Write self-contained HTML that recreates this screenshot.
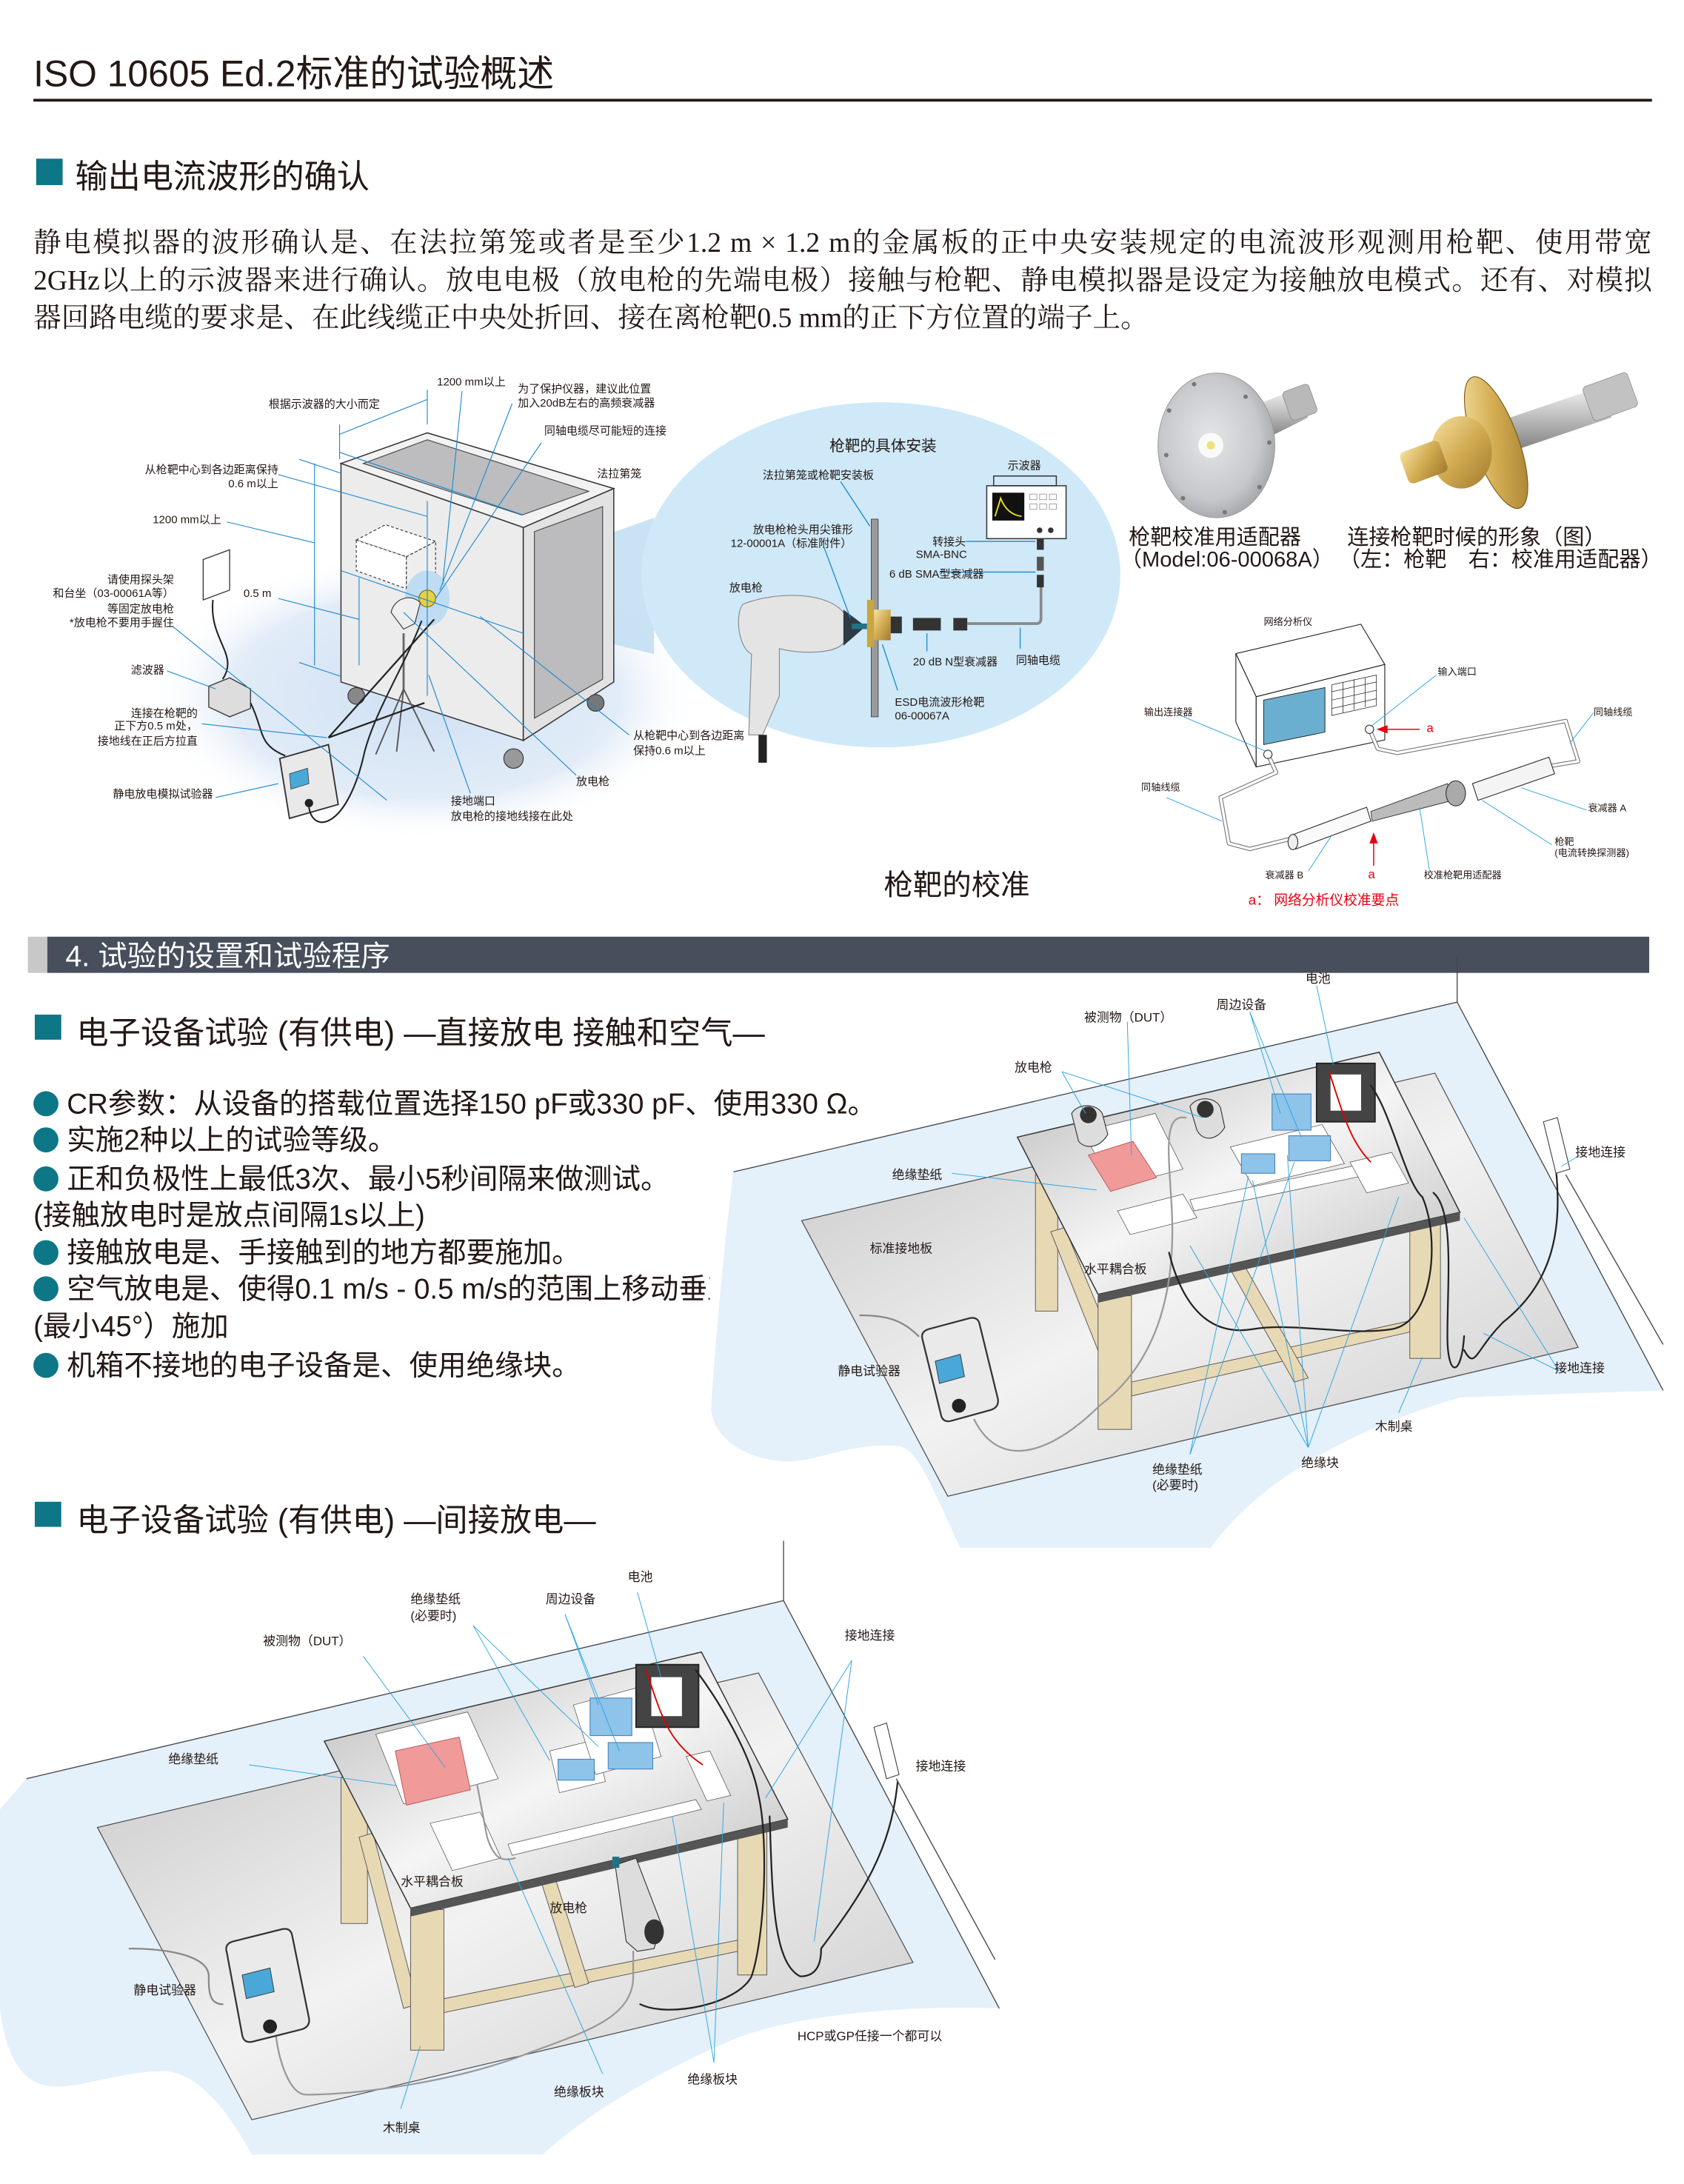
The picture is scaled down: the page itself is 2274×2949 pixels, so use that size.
<!DOCTYPE html>
<html><head><meta charset="utf-8">
<style>
html,body{margin:0;padding:0;background:#fff;overflow:hidden;width:2274px;height:2948px}
#s{position:absolute;left:0;top:0;width:1210px;height:1569px;transform:scale(1.879339);transform-origin:0 0;font-family:"Liberation Sans","Noto Sans CJK SC",sans-serif;color:#231815}
.a{position:absolute;white-space:nowrap}
.p{position:absolute;left:24px;width:1163px;font-family:"Liberation Serif","Noto Serif CJK SC",serif;font-size:20px;line-height:27px;white-space:nowrap;text-align:justify;text-align-last:justify}
.b{position:absolute;left:24px;font-size:20.5px;white-space:nowrap}
.b i{display:inline-block;width:18px;height:18px;border-radius:50%;background:#0d7687;vertical-align:-2px;margin-right:6px}
.sq{position:absolute;background:#0d7687}
svg{position:absolute;left:0;top:0}
svg text{font-family:"Liberation Sans","Noto Sans CJK SC",sans-serif;fill:#231815}
</style></head><body><div id="s">

<div class="a" style="left:24px;top:31px;font-size:26.5px">ISO 10605 Ed.2标准的试验概述</div>
<div class="a" style="left:24px;top:71px;width:1163px;height:2.2px;background:#231815"></div>
<div class="sq" style="left:25.5px;top:114px;width:19px;height:19px"></div>
<div class="a" style="left:54px;top:108px;font-size:23.5px">输出电流波形的确认</div>

<div class="p" style="top:162px">静电模拟器的波形确认是、在法拉第笼或者是至少1.2 m × 1.2 m的金属板的正中央安装规定的电流波形观测用枪靶、使用带宽</div>
<div class="p" style="top:189px">2GHz以上的示波器来进行确认。放电电极（放电枪的先端电极）接触与枪靶、静电模拟器是设定为接触放电模式。还有、对模拟</div>
<div class="p" style="top:216px;width:auto;text-align:left;text-align-last:auto">器回路电缆的要求是、在此线缆正中央处折回、接在离枪靶0.5 mm的正下方位置的端子上。</div>

<svg width="1210" height="1569" viewBox="0 0 1210 1569">
<defs>
<radialGradient id="glow" cx="0.5" cy="0.5" r="0.5"><stop offset="0" stop-color="#cfe0f3"/><stop offset="0.7" stop-color="#e2ecf8"/><stop offset="1" stop-color="#fff" stop-opacity="0"/></radialGradient>
<linearGradient id="fl" x1="0" y1="0" x2="1" y2="1"><stop offset="0" stop-color="#c4c4c6"/><stop offset="0.5" stop-color="#f2f2f2"/><stop offset="1" stop-color="#c9c9cb"/></linearGradient>
<linearGradient id="tt" x1="0" y1="0" x2="1" y2="1"><stop offset="0" stop-color="#b9b9bb"/><stop offset="0.5" stop-color="#f5f5f5"/><stop offset="1" stop-color="#c0c0c2"/></linearGradient>
<radialGradient id="disc" cx="0.45" cy="0.45" r="0.6"><stop offset="0" stop-color="#e4e5e7"/><stop offset="0.7" stop-color="#c6c8cb"/><stop offset="1" stop-color="#9fa2a6"/></radialGradient>
<linearGradient id="brass" x1="0" y1="0" x2="1" y2="1"><stop offset="0" stop-color="#f6e3a0"/><stop offset="0.5" stop-color="#d2ab52"/><stop offset="1" stop-color="#a07a2c"/></linearGradient>
<linearGradient id="steel" x1="0" y1="0" x2="0" y2="1"><stop offset="0" stop-color="#f2f2f2"/><stop offset="0.5" stop-color="#bdbdbd"/><stop offset="1" stop-color="#858585"/></linearGradient>
</defs>

<!-- ===== top-left scene ===== -->
<ellipse cx="305" cy="500" rx="200" ry="105" fill="url(#glow)"/>
<polygon points="307,430 470,372 470,470" fill="#bcdcf1" opacity="0.8"/>
<ellipse cx="633" cy="413" rx="172" ry="124" fill="#cfe9f8"/>
<polygon points="245,333 307,311 441,351 376,379" fill="#f2f2f2" stroke="#333" stroke-width="0.8"/>
<polygon points="261,333 307,316 423,353 375,370" fill="#bdbdbf" stroke="#444" stroke-width="0.6"/>
<polygon points="245,333 376,379 376,532 245,490" fill="#ececec" stroke="#333" stroke-width="0.8"/>
<polygon points="376,379 441,351 441,490 376,532" fill="#e2e2e2" stroke="#333" stroke-width="0.8"/>
<polygon points="384,382 433,364 433,488 384,516" fill="#bcbcbe" stroke="#444" stroke-width="0.6"/>
<circle cx="256" cy="500" r="6" fill="#888" stroke="#333" stroke-width="0.6"/>
<circle cx="369" cy="545" r="7" fill="#999" stroke="#333" stroke-width="0.6"/>
<circle cx="428" cy="505" r="6" fill="#777" stroke="#333" stroke-width="0.6"/>
<polygon points="256,388 277,377 313,389 292,400" fill="#fff" stroke="#333" stroke-width="0.6" stroke-dasharray="2,1.5"/>
<polygon points="256,388 292,400 292,423 256,410" fill="#fff" stroke="#333" stroke-width="0.6" stroke-dasharray="2,1.5"/>
<polygon points="292,400 313,389 313,411 292,423" fill="#eee" stroke="#333" stroke-width="0.6" stroke-dasharray="2,1.5"/>
<ellipse cx="307" cy="430" rx="16" ry="20" fill="#bfdcf2"/>
<circle cx="307" cy="430" r="6" fill="#e7cf45" stroke="#7a6a10" stroke-width="0.6"/>
<path d="M290,452 L281,440 C283,430 295,426 302,433 L298,448 Z" fill="#eee" stroke="#333" stroke-width="0.6"/>
<line x1="290" y1="455" x2="290" y2="495" stroke="#666" stroke-width="1.5"/>
<path d="M290,495 L270,542 M290,495 L312,540 M290,495 L285,540" stroke="#555" stroke-width="1" fill="none"/>
<!-- tester -->
<path d="M201,545 L236,535 L243,578 L208,588 Z" fill="#e9e9e9" stroke="#333" stroke-width="1"/>
<polygon points="208,556 221,552 222,563 209,567" fill="#4aa8d8" stroke="#333" stroke-width="0.4"/>
<circle cx="222" cy="577" r="3" fill="#222"/>
<path d="M150,493 L165,487 L180,495 L180,509 L165,515 L150,508 Z" fill="#ddd" stroke="#333" stroke-width="0.7"/>
<polygon points="146,402 165,395 165,424 146,431" fill="#fff" stroke="#333" stroke-width="0.7"/>
<path d="M153,431 C150,460 172,470 160,488 M180,505 C190,525 185,535 205,543 M222,580 C225,600 250,595 262,540 C270,510 290,480 303,446" fill="none" stroke="#222" stroke-width="1.1"/>
<path d="M236,530 L312,445 M236,530 L305,505" fill="none" stroke="#222" stroke-width="1.2"/>
<g stroke="#1e88cf" stroke-width="0.6" fill="none">
<line x1="244" y1="312" x2="307" y2="287"/><line x1="244" y1="305" x2="244" y2="330"/><line x1="307" y1="280" x2="307" y2="305"/>
<line x1="244" y1="325" x2="376" y2="370"/><line x1="226" y1="333" x2="226" y2="478"/><line x1="215" y1="330" x2="245" y2="340"/><line x1="215" y1="476" x2="245" y2="486"/>
<line x1="258" y1="415" x2="258" y2="478"/><line x1="245" y1="410" x2="376" y2="455"/>
<line x1="307" y1="360" x2="307" y2="500"/>
<line x1="200" y1="341" x2="307" y2="371"/><line x1="163" y1="375" x2="226" y2="390"/>
<line x1="200" y1="430" x2="258" y2="445"/><line x1="124" y1="450" x2="278" y2="575"/>
<line x1="120" y1="482" x2="155" y2="495"/><line x1="145" y1="520" x2="235" y2="530"/><line x1="155" y1="573" x2="200" y2="563"/>
<line x1="338" y1="570" x2="308" y2="485"/><line x1="414" y1="557" x2="290" y2="440"/><line x1="452" y1="528" x2="345" y2="443"/>
<line x1="332" y1="281" x2="318" y2="420"/><line x1="368" y1="290" x2="316" y2="424"/><line x1="389" y1="318" x2="313" y2="430"/>
</g>
<g font-size="8">
<text x="314" y="277">1200 mm以上</text>
<text x="372" y="282">为了保护仪器，建议此位置</text>
<text x="372" y="292">加入20dB左右的高频衰减器</text>
<text x="193" y="293">根据示波器的大小而定</text>
<text x="391" y="312">同轴电缆尽可能短的连接</text>
<text x="429" y="343">法拉第笼</text>
<text x="200" y="340" text-anchor="end">从枪靶中心到各边距离保持</text>
<text x="200" y="350" text-anchor="end">0.6 m以上</text>
<text x="159" y="376" text-anchor="end">1200 mm以上</text>
<text x="125" y="419" text-anchor="end">请使用探头架</text>
<text x="125" y="429" text-anchor="end">和台坐（03-00061A等）</text>
<text x="125" y="440" text-anchor="end">等固定放电枪</text>
<text x="125" y="450" text-anchor="end">*放电枪不要用手握住</text>
<text x="175" y="429">0.5 m</text>
<text x="118" y="484" text-anchor="end">滤波器</text>
<text x="142" y="515" text-anchor="end">连接在枪靶的</text>
<text x="142" y="524" text-anchor="end">正下方0.5 m处，</text>
<text x="142" y="535" text-anchor="end">接地线在正后方拉直</text>
<text x="153" y="573" text-anchor="end">静电放电模拟试验器</text>
<text x="324" y="578">接地端口</text>
<text x="324" y="589">放电枪的接地线接在此处</text>
<text x="414" y="564">放电枪</text>
<text x="455" y="531">从枪靶中心到各边距离</text>
<text x="455" y="542">保持0.6 m以上</text>
</g>

<!-- central ellipse content -->
<rect x="626" y="373" width="5" height="142" fill="#9a9a9a" stroke="#444" stroke-width="0.5"/>
<rect x="709" y="349" width="57" height="38" fill="#fff" stroke="#333" stroke-width="0.8"/>
<rect x="714" y="342" width="45" height="7" fill="none" stroke="#333" stroke-width="0.8"/>
<rect x="713" y="354" width="23" height="20" fill="#111"/>
<path d="M715,371 L719,358 C722,366 727,370 734,371" fill="none" stroke="#f0e020" stroke-width="1"/>
<g fill="none" stroke="#888" stroke-width="0.4"><rect x="740" y="355" width="5" height="4"/><rect x="747" y="355" width="5" height="4"/><rect x="754" y="355" width="5" height="4"/><rect x="740" y="362" width="5" height="4"/><rect x="747" y="362" width="5" height="4"/><rect x="754" y="362" width="5" height="4"/></g>
<circle cx="747" cy="381" r="2" fill="#333"/><circle cx="755" cy="381" r="2" fill="#333"/>
<path d="M534,434 C560,424 595,426 606,440 L622,450 L606,462 C600,470 575,470 560,466 L560,500 L548,528 L538,528 L540,470 C530,465 528,440 534,434 Z" fill="#e4e4e4" stroke="#888" stroke-width="0.6"/>
<path d="M606,438 L622,450 L606,464 Z" fill="#2e3a44"/>
<rect x="612" y="448" width="11" height="4" fill="#1f7384"/>
<rect x="545" y="528" width="6" height="20" fill="#222"/>
<rect x="623" y="431" width="5" height="34" fill="#c9a640"/>
<rect x="628" y="438" width="12" height="22" fill="url(#brass)"/>
<rect x="640" y="443" width="8" height="12" fill="#333"/>
<rect x="656" y="444" width="20" height="9" fill="#333"/>
<rect x="685" y="444" width="10" height="9" fill="#333"/>
<path d="M695,448 L745,448 Q748,448 748,444 L748,420" fill="none" stroke="#8a8a8a" stroke-width="2"/>
<rect x="745" y="387" width="5" height="8" fill="#333"/><rect x="745" y="400" width="5" height="10" fill="#555"/><rect x="745" y="413" width="5" height="9" fill="#333"/>
<g stroke="#1e88cf" stroke-width="0.7" fill="none">
<line x1="604" y1="346" x2="625" y2="378"/><line x1="592" y1="393" x2="611" y2="444"/>
<line x1="694" y1="389" x2="744" y2="389"/><line x1="675" y1="411" x2="744" y2="411"/>
<line x1="645" y1="496" x2="634" y2="463"/><line x1="666" y1="468" x2="666" y2="455"/><line x1="733" y1="466" x2="733" y2="451"/>
</g>
<text x="596" y="324" font-size="11">枪靶的具体安装</text>
<g font-size="8">
<text x="724" y="337">示波器</text>
<text x="548" y="344">法拉第笼或枪靶安装板</text>
<text x="541" y="383">放电枪枪头用尖锥形</text>
<text x="525" y="393">12-00001A（标准附件）</text>
<text x="670" y="392">转接头</text>
<text x="658" y="401">SMA-BNC</text>
<text x="639" y="415">6 dB SMA型衰减器</text>
<text x="524" y="425">放电枪</text>
<text x="656" y="478">20 dB N型衰减器</text>
<text x="730" y="477">同轴电缆</text>
<text x="643" y="507">ESD电流波形枪靶</text>
<text x="643" y="517">06-00067A</text>
</g>
<text x="635" y="643" font-size="21">枪靶的校准</text>

<!-- right photos -->
<polygon points="900,292 930,280 940,300 912,314" fill="url(#steel)"/>
<rect x="924" y="278" width="20" height="22" rx="3" fill="#b9b9b9" stroke="#888" stroke-width="0.4" transform="rotate(-20 934 289)"/>
<ellipse cx="874" cy="320" rx="42" ry="52" fill="url(#disc)" stroke="#999" stroke-width="0.5"/>
<g fill="#777"><circle cx="858" cy="276" r="1.6"/><circle cx="895" cy="285" r="1.6"/><circle cx="912" cy="318" r="1.6"/><circle cx="905" cy="350" r="1.6"/><circle cx="880" cy="368" r="1.6"/><circle cx="850" cy="358" r="1.6"/><circle cx="838" cy="327" r="1.6"/><circle cx="840" cy="295" r="1.6"/></g>
<circle cx="870" cy="320" r="9" fill="#fafafa"/><circle cx="870" cy="320" r="3" fill="#efe27a"/>
<polygon points="1085,300 1150,278 1158,300 1093,322" fill="url(#steel)"/>
<rect x="1140" y="272" width="34" height="26" rx="3" fill="#c2c2c2" stroke="#888" stroke-width="0.4" transform="rotate(-20 1157 285)"/>
<ellipse cx="1075" cy="318" rx="16" ry="50" fill="url(#brass)" stroke="#7a5a1a" stroke-width="0.6" transform="rotate(-20 1075 318)"/>
<ellipse cx="1050" cy="325" rx="22" ry="26" fill="url(#brass)"/>
<rect x="1008" y="320" width="30" height="24" rx="4" fill="url(#brass)" transform="rotate(-20 1023 332)"/>
<g font-size="15.5">
<text x="811" y="391">枪靶校准用适配器</text>
<text x="805" y="407">（Model:06-00068A）</text>
<text x="968" y="391">连接枪靶时候的形象（图）</text>
<text x="962" y="407">（左：枪靶　右：校准用适配器）</text>
</g>
<!-- network analyzer -->
<polygon points="888,469.6 977.8,448.5 995,477.4 902.6,500.6" fill="#fff" stroke="#222" stroke-width="0.6"/>
<polygon points="888,469.6 902.6,500.6 902.6,551 888,518.7" fill="#fff" stroke="#222" stroke-width="0.6"/>
<polygon points="902.6,500.6 995,477.4 995,531.6 902.6,551" fill="#fff" stroke="#222" stroke-width="0.6"/>
<polygon points="908,503 952,494 952,526 908,535" fill="#6aafd0" stroke="#222" stroke-width="0.5"/>
<g stroke="#222" stroke-width="0.4" fill="#fff">
<polygon points="957,492 989,485 989,507 957,514"/>
<line x1="957" y1="497" x2="989" y2="490"/><line x1="957" y1="503" x2="989" y2="496"/><line x1="957" y1="509" x2="989" y2="502"/>
<line x1="965" y1="490" x2="965" y2="512"/><line x1="973" y1="488" x2="973" y2="510"/><line x1="981" y1="487" x2="981" y2="508"/>
</g>
<g fill="none" stroke-linecap="round" stroke-linejoin="round">
<path d="M911,542 L917,555 L877,573 L883,606 L898,610 L930,602 M984,524 L990,538 L1004,541 L1125,518 L1134,547 L1116,550" stroke="#777" stroke-width="3"/>
<path d="M911,542 L917,555 L877,573 L883,606 L898,610 L930,602 M984,524 L990,538 L1004,541 L1125,518 L1134,547 L1116,550" stroke="#fff" stroke-width="1.8"/>
</g>
<circle cx="911" cy="542" r="3" fill="#fff" stroke="#333" stroke-width="0.6"/><circle cx="984" cy="524" r="3" fill="#fff" stroke="#333" stroke-width="0.6"/>
<polygon points="928,600 982,580 985,590 931,610" fill="#fafafa" stroke="#333" stroke-width="0.6"/>
<ellipse cx="929" cy="605" rx="3.5" ry="5.5" fill="#eee" stroke="#333" stroke-width="0.6"/>
<polygon points="985,583 1040,563 1044,575 986,590" fill="#bbb" stroke="#333" stroke-width="0.5"/>
<ellipse cx="1046" cy="570" rx="7" ry="9" fill="#aaa" stroke="#333" stroke-width="0.6"/>
<polygon points="1058,563 1113,544 1117,556 1062,575" fill="#f4f4f4" stroke="#333" stroke-width="0.6"/>
<g stroke="#2aa5e0" stroke-width="0.5"><line x1="848" y1="514" x2="910" y2="540"/><line x1="1032" y1="485" x2="985" y2="522"/><line x1="1145" y1="512" x2="1128" y2="534"/><line x1="838" y1="573" x2="878" y2="590"/><line x1="1140" y1="582" x2="1093" y2="566"/><line x1="1115" y1="607" x2="1065" y2="575"/><line x1="940" y1="626" x2="957" y2="600"/><line x1="1027" y1="625" x2="1020" y2="580"/></g>
<line x1="1020" y1="524" x2="995" y2="524" stroke="#e60012" stroke-width="0.8"/><polygon points="989,524 997,521 997,527" fill="#e60012"/>
<line x1="987" y1="622" x2="987" y2="604" stroke="#e60012" stroke-width="0.8"/><polygon points="987,598 984,606 990,606" fill="#e60012"/>
<g font-size="7">
<text x="908" y="449">网络分析仪</text><text x="1033" y="485">输入端口</text><text x="822" y="514">输出连接器</text>
<text x="1145" y="514">同轴线缆</text><text x="820" y="568">同轴线缆</text><text x="1141" y="583">衰减器 A</text>
<text x="1117" y="607">枪靶</text><text x="1117" y="615">(电流转换探测器)</text><text x="909" y="631">衰减器 B</text><text x="1023" y="631">校准枪靶用适配器</text>
</g>
<text x="1025" y="526" font-size="9" style="fill:#e60012">a</text>
<text x="983" y="631" font-size="9" style="fill:#e60012">a</text>
<text x="897" y="650" font-size="10" style="fill:#e60012">a： 网络分析仪校准要点</text>

<!-- ===== section bar ===== -->
<rect x="20" y="673" width="14" height="26" fill="#c8c8c8"/>
<rect x="34" y="673" width="1151" height="26" fill="#474f5c"/>
<text x="47" y="694" font-size="21" style="fill:#fff">4. 试验的设置和试验程序</text>

<!-- ===== bottom-right scene ===== -->
<path d="M527,842 L1047,720 L1195,999 L1049,1004 C960,1030 900,1070 870,1112 L690,1112 C670,1070 660,1040 645,1039 C610,1036 590,1050 565,1050 C530,1048 512,1030 511,1012 C514,960 522,880 527,842 Z" fill="#e4f0fa"/>
<path d="M527,842 L1047,720 L1195,999" fill="none" stroke="#444" stroke-width="0.7"/>
<line x1="1047" y1="686" x2="1047" y2="720" stroke="#444" stroke-width="0.7"/>
<polygon points="576,877 1031,771 1134,968 681,1075" fill="url(#fl)" stroke="#444" stroke-width="0.6"/>
<g fill="#e8d9b5" stroke="#555" stroke-width="0.5">
<rect x="744" y="844" width="16" height="98"/>
<polygon points="755,885 765,882 812,995 800,998"/>
<polygon points="813,993 1013,949 1013,957 813,1003"/>
<rect x="1013" y="876" width="22" height="100"/>
<rect x="789" y="931" width="24" height="96"/>
<polygon points="880,905 890,902 940,990 930,993"/>
</g>
<polygon points="731,817 991,756 1049,871 789,930" fill="url(#tt)" stroke="#333" stroke-width="0.8"/>
<polygon points="789,930 1049,871 1049,877 789,936" fill="#555"/>
<polygon points="778,813 830,800 850,840 800,853" fill="#fff" stroke="#555" stroke-width="0.4"/>
<polygon points="782,830 814,820 831,846 798,856" fill="#f09a9a" stroke="#b55" stroke-width="0.5"/>
<polygon points="803,870 850,858 860,875 812,887" fill="#fff" stroke="#555" stroke-width="0.4"/>
<polygon points="855,862 1000,832 1003,840 858,870" fill="#fff" stroke="#555" stroke-width="0.4"/>
<polygon points="884,824 950,808 966,836 900,852" fill="#fff" stroke="#555" stroke-width="0.4"/>
<polygon points="970,835 1000,828 1012,850 982,857" fill="#fff" stroke="#555" stroke-width="0.4"/>
<rect x="914" y="786" width="28" height="26" fill="#8ec3ea" stroke="#4d86b8" stroke-width="0.6"/>
<rect x="926" y="816" width="30" height="18" fill="#8ec3ea" stroke="#4d86b8" stroke-width="0.6"/>
<rect x="892" y="829" width="24" height="14" fill="#8ec3ea" stroke="#4d86b8" stroke-width="0.6"/>
<rect x="946" y="764" width="42" height="42" fill="#444" stroke="#222"/><rect x="956" y="772" width="22" height="26" fill="#fff"/>
<path d="M955,770 C965,800 970,820 985,835" fill="none" stroke="#d00" stroke-width="1"/>
<path d="M775,820 L770,800 C775,792 788,793 792,800 L796,815 C790,825 780,826 775,820 Z M860,812 L855,795 C860,787 874,788 877,796 L880,810 C874,820 864,820 860,812 Z" fill="#ddd" stroke="#333" stroke-width="0.6"/>
<circle cx="782" cy="801" r="6" fill="#333"/><circle cx="866" cy="797" r="6" fill="#333"/>
<g fill="none" stroke-width="1.2" stroke-linecap="round">
<path d="M852,803 C835,800 840,830 842,870 C845,930 830,980 790,1010 C760,1040 720,1060 700,1020" stroke="#999"/>
<path d="M985,780 C1000,800 1010,850 1022,860 C1035,890 1030,950 1000,955 C970,960 930,950 900,955 C870,960 850,940 840,900" stroke="#222"/>
<path d="M1030,857 C1045,870 1040,920 1040,960 C1040,990 1050,990 1052,960 M1118,840 C1122,880 1118,920 1080,950 C1060,970 1060,985 1052,970" stroke="#222"/>
<path d="M618,945 C640,945 650,950 660,960" stroke="#888"/>
</g>
<polygon points="1109,806 1119,803 1128,840 1118,843" fill="#fff" stroke="#444" stroke-width="0.6"/>
<line x1="1125" y1="844" x2="1195" y2="966" stroke="#555" stroke-width="0.8"/>
<path d="M663,963 Q661,957 667,955 L697,947 Q703,946 704,952 L717,1005 Q718,1011 712,1013 L683,1021 Q677,1022 676,1016 Z" fill="#eaeaea" stroke="#333" stroke-width="1.2"/>
<polygon points="672,978 690,973 693,989 675,994" fill="#4aa8d8" stroke="#333" stroke-width="0.5"/>
<circle cx="689" cy="1010" r="5" fill="#222"/>
<g stroke="#2aa5e0" stroke-width="0.5" fill="none">
<line x1="946" y1="708" x2="958" y2="765"/><line x1="898" y1="727" x2="920" y2="800"/><line x1="898" y1="727" x2="935" y2="817"/>
<line x1="810" y1="734" x2="813" y2="830"/><line x1="763" y1="770" x2="780" y2="800"/><line x1="763" y1="770" x2="864" y2="803"/>
<line x1="684" y1="843" x2="788" y2="855"/><line x1="1135" y1="830" x2="1122" y2="838"/><line x1="1120" y1="985" x2="1052" y2="875"/><line x1="1120" y1="985" x2="1066" y2="958"/>
<line x1="1005" y1="1015" x2="1022" y2="975"/><line x1="940" y1="1040" x2="900" y2="848"/><line x1="940" y1="1040" x2="925" y2="830"/><line x1="940" y1="1040" x2="1005" y2="860"/><line x1="940" y1="1040" x2="855" y2="895"/>
<line x1="855" y1="1045" x2="897" y2="845"/><line x1="855" y1="1045" x2="930" y2="835"/>
</g>
<g font-size="9">
<text x="938" y="706">电池</text><text x="874" y="725">周边设备</text><text x="779" y="734">被测物（DUT）</text>
<text x="729" y="770">放电枪</text><text x="641" y="847">绝缘垫纸</text><text x="625" y="900">标准接地板</text>
<text x="779" y="915">水平耦合板</text><text x="602" y="988">静电试验器</text><text x="1132" y="831">接地连接</text>
<text x="1117" y="986">接地连接</text><text x="988" y="1028">木制桌</text><text x="935" y="1054">绝缘块</text>
<text x="828" y="1059">绝缘垫纸</text><text x="828" y="1070">(必要时)</text>
</g>

<!-- ===== bottom-left scene ===== -->
<path d="M19,1278 L563,1150 L718,1443 C640,1440 560,1450 523,1467 C470,1490 420,1520 390,1548 L181,1548 C160,1510 140,1490 119,1488 C80,1488 50,1505 28,1497 C8,1490 2,1460 0,1443 L0,1300 Z" fill="#e4f0fa"/>
<path d="M19,1278 L563,1150 L718,1443" fill="none" stroke="#444" stroke-width="0.7"/>
<line x1="563" y1="1107" x2="563" y2="1150" stroke="#444" stroke-width="0.7"/>
<polygon points="70,1313 545,1202 656,1410 181,1523" fill="url(#fl)" stroke="#444" stroke-width="0.6"/>
<g fill="#e8d9b5" stroke="#555" stroke-width="0.5">
<rect x="245" y="1277" width="19" height="105"/>
<polygon points="258,1320 268,1317 300,1440 290,1443"/>
<polygon points="319,1436 530,1394 530,1402 319,1446"/>
<rect x="530" y="1313" width="21" height="106"/>
<rect x="295" y="1372" width="24" height="101"/>
<polygon points="385,1340 395,1337 423,1425 413,1428"/>
</g>
<polygon points="233,1251 504,1187 566,1307 295,1371" fill="url(#tt)" stroke="#333" stroke-width="0.8"/>
<polygon points="295,1371 566,1307 566,1313 295,1377" fill="#555"/>
<polygon points="270,1246 336,1230 358,1278 290,1296" fill="#fff" stroke="#555" stroke-width="0.4"/>
<polygon points="284,1258 330,1248 338,1286 292,1297" fill="#f09a9a" stroke="#b55" stroke-width="0.5"/>
<polygon points="309,1310 345,1302 360,1335 325,1344" fill="#fff" stroke="#555" stroke-width="0.4"/>
<polygon points="365,1325 500,1293 504,1300 368,1333" fill="#fff" stroke="#555" stroke-width="0.4"/>
<polygon points="395,1258 428,1250 435,1280 402,1288" fill="#fff" stroke="#555" stroke-width="0.4"/>
<polygon points="412,1225 460,1212 475,1262 428,1275" fill="#fff" stroke="#555" stroke-width="0.4"/>
<polygon points="493,1262 510,1258 525,1290 508,1294" fill="#fff" stroke="#555" stroke-width="0.4"/>
<rect x="424" y="1220" width="30" height="27" fill="#8ec3ea" stroke="#4d86b8" stroke-width="0.6"/>
<rect x="437" y="1252" width="32" height="19" fill="#8ec3ea" stroke="#4d86b8" stroke-width="0.6"/>
<rect x="401" y="1264" width="26" height="15" fill="#8ec3ea" stroke="#4d86b8" stroke-width="0.6"/>
<rect x="457" y="1196" width="45" height="45" fill="#444" stroke="#222"/><rect x="468" y="1205" width="22" height="28" fill="#fff"/>
<path d="M464,1200 C475,1230 478,1250 505,1268" fill="none" stroke="#d00" stroke-width="1"/>
<path d="M442,1340 L457,1335 L475,1382 L470,1400 L458,1402 L450,1395 Z" fill="#ddd" stroke="#333" stroke-width="0.6"/>
<ellipse cx="470" cy="1388" rx="7" ry="9" fill="#333"/>
<rect x="440" y="1334" width="5" height="8" fill="#1f7384"/>
<g fill="none" stroke-width="1.2" stroke-linecap="round">
<path d="M343,1283 L350,1320 C355,1335 360,1338 370,1335" stroke="#999"/>
<path d="M455,1402 L455,1420 C455,1450 420,1460 380,1475 C330,1495 260,1505 220,1505 C208,1505 200,1480 198,1460" stroke="#999"/>
<path d="M500,1200 C515,1220 540,1260 545,1290 C552,1320 550,1390 540,1420 C530,1440 480,1450 460,1440" stroke="#222"/>
<path d="M553,1305 C555,1360 555,1410 575,1420 C590,1420 590,1405 590,1400 M645,1280 C640,1330 620,1360 590,1400" stroke="#222"/>
<path d="M93,1400 C120,1400 150,1405 150,1420 C150,1430 150,1440 160,1440" stroke="#888"/>
</g>
<polygon points="628,1241 637,1238 646,1275 637,1278" fill="#fff" stroke="#444" stroke-width="0.6"/>
<line x1="644" y1="1278" x2="715" y2="1408" stroke="#555" stroke-width="0.8"/>
<path d="M163,1403 Q161,1397 167,1395 L203,1386 Q209,1385 210,1391 L222,1450 Q223,1456 217,1458 L181,1467 Q175,1468 174,1462 Z" fill="#eaeaea" stroke="#333" stroke-width="1.2"/>
<polygon points="174,1419 194,1414 197,1431 177,1436" fill="#4aa8d8" stroke="#333" stroke-width="0.5"/>
<circle cx="194" cy="1456" r="5" fill="#222"/>
<g stroke="#2aa5e0" stroke-width="0.5" fill="none">
<line x1="458" y1="1144" x2="475" y2="1205"/><line x1="406" y1="1160" x2="430" y2="1225"/><line x1="406" y1="1160" x2="445" y2="1258"/>
<line x1="340" y1="1168" x2="395" y2="1265"/><line x1="340" y1="1168" x2="430" y2="1255"/><line x1="261" y1="1190" x2="320" y2="1270"/>
<line x1="179" y1="1268" x2="285" y2="1283"/><line x1="612" y1="1193" x2="550" y2="1292"/><line x1="612" y1="1193" x2="585" y2="1395"/>
<line x1="288" y1="1515" x2="302" y2="1470"/><line x1="433" y1="1490" x2="365" y2="1335"/><line x1="513" y1="1482" x2="483" y2="1305"/><line x1="513" y1="1482" x2="520" y2="1295"/>
</g>
<g font-size="9">
<text x="451" y="1136">电池</text><text x="295" y="1152">绝缘垫纸</text><text x="295" y="1164">(必要时)</text>
<text x="392" y="1152">周边设备</text><text x="189" y="1182">被测物（DUT）</text><text x="607" y="1178">接地连接</text>
<text x="121" y="1267">绝缘垫纸</text><text x="658" y="1272">接地连接</text><text x="288" y="1355">水平耦合板</text>
<text x="395" y="1374">放电枪</text><text x="96" y="1433">静电试验器</text><text x="573" y="1466">HCP或GP任接一个都可以</text>
<text x="494" y="1497">绝缘板块</text><text x="398" y="1506">绝缘板块</text><text x="275" y="1532">木制桌</text>
</g>
</svg>

<div class="sq" style="left:25px;top:729px;width:19px;height:18px"></div>
<div class="a" style="left:55px;top:723px;font-size:23px">电子设备试验 (有供电) —直接放电 接触和空气—</div>
<div class="b" style="top:776px"><i></i>CR参数：从设备的搭载位置选择150 pF或330 pF、使用330 Ω。</div>
<div class="b" style="top:802px"><i></i>实施2种以上的试验等级。</div>
<div class="b" style="top:830px"><i></i>正和负极性上最低3次、最小5秒间隔来做测试。</div>
<div class="b" style="top:856px">(接触放电时是放点间隔1s以上)</div>
<div class="b" style="top:883px"><i></i>接触放电是、手接触到的地方都要施加。</div>
<div class="b" style="top:909px;width:486px;overflow:hidden"><i></i>空气放电是、使得0.1 m/s - 0.5 m/s的范围上移动垂直</div>
<div class="b" style="top:936px">(最小45°）施加</div>
<div class="b" style="top:964px"><i></i>机箱不接地的电子设备是、使用绝缘块。</div>
<div class="sq" style="left:25px;top:1079px;width:19px;height:18px"></div>
<div class="a" style="left:55px;top:1073px;font-size:23px">电子设备试验 (有供电) —间接放电—</div>

</div></body></html>
